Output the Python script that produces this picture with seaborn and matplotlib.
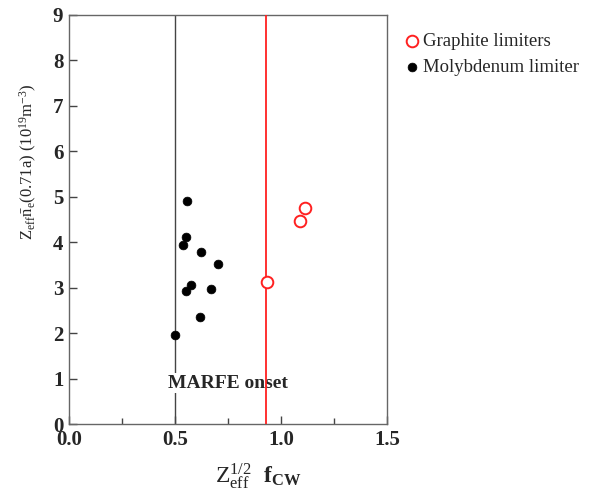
import matplotlib
matplotlib.use("Agg")
import matplotlib.pyplot as plt
import seaborn as sns
import pandas as pd

# Molybdenum limiter discharges
moly_x = [0.558, 0.552, 0.536, 0.623, 0.703, 0.577, 0.550, 0.671, 0.616, 0.500]
moly_y = [4.90, 4.11, 3.93, 3.78, 3.51, 3.06, 2.92, 2.97, 2.36, 1.96]
# Graphite limiter discharges
graph_x = [1.112, 1.088, 0.935]
graph_y = [4.76, 4.47, 3.13]
# MARFE onset thresholds
moly_onset = 0.50
graph_onset = 0.93

x_ticks = [0.0, 0.5, 1.0, 1.5]
x_ticklabels = ["0.0", "0.5", "1.0", "1.5"]
y_ticks = list(range(0, 10))

sns.set_theme(style="white")
plt.rcParams["font.family"] = ["Liberation Serif", "DejaVu Serif"]
plt.rcParams["mathtext.fontset"] = "custom"
plt.rcParams["mathtext.rm"] = "Liberation Serif"
plt.rcParams["mathtext.it"] = "Liberation Serif:italic"
plt.rcParams["mathtext.bf"] = "Liberation Serif:bold"

df_m = pd.DataFrame({"x": moly_x, "y": moly_y})
df_g = pd.DataFrame({"x": graph_x, "y": graph_y})

fig = plt.figure(figsize=(6.04, 4.92), dpi=100)
ax = fig.add_axes([0.114, 0.138, 0.527, 0.832])

ax.axvline(moly_onset, color="#444444", lw=1.0, zorder=1)
ax.axvline(graph_onset, color="#ff2020", lw=1.3, zorder=3)

ax.text(0.467, 0.9, "MARFE onset", fontsize=14, fontweight="bold", va="center",
        ha="left", zorder=2,
        bbox=dict(facecolor="white", edgecolor="none", pad=1.0))

sns.scatterplot(data=df_g, x="x", y="y", ax=ax, marker="o", s=70,
                facecolor="white", edgecolor="#ff2020", linewidth=1.4,
                zorder=4, label="Graphite limiters")
sns.scatterplot(data=df_m, x="x", y="y", ax=ax, marker="o", s=40,
                color="black", edgecolor="black", linewidth=0.5,
                zorder=4, label="Molybdenum limiter")

ax.set_xlim(0, 1.5)
ax.set_ylim(0, 9)
ax.set_xticks(x_ticks)
ax.set_xticklabels(x_ticklabels)
ax.set_xticks([0.25, 0.75, 1.25], minor=True)
ax.set_yticks(y_ticks)

for sp in ax.spines.values():
    sp.set_color("#666666")
    sp.set_linewidth(1.0)

ax.tick_params(axis="both", which="major", direction="in", length=6,
               width=1, color="#444444", labelsize=15, pad=4)
ax.tick_params(axis="x", which="minor", direction="in", length=4,
               width=1, color="#444444", bottom=True)
ax.tick_params(left=True, bottom=True)
for lab in ax.get_xticklabels() + ax.get_yticklabels():
    lab.set_fontweight("bold")

ax.set_xlabel(r"${\rm Z}_{\rm eff}^{1/2}$  $\mathbf{f}_{\mathbf{CW}}$", fontsize=17)
ax.xaxis.set_label_coords(0.594, -0.092)
ax.set_ylabel(r"${\rm Z}_{\rm eff}\bar{\rm n}_{\rm e}$(0.71a) (10$^{19}$m$^{-3}$)",
              fontsize=12)
ax.yaxis.set_label_coords(-0.094, 0.64)

ax.legend(loc="upper left", bbox_to_anchor=(1.025, 0.975), frameon=False,
          fontsize=13.5, handletextpad=0.1, labelspacing=0.5,
          borderaxespad=0, handlelength=1.0)

fig.savefig("out.png", dpi=100)
